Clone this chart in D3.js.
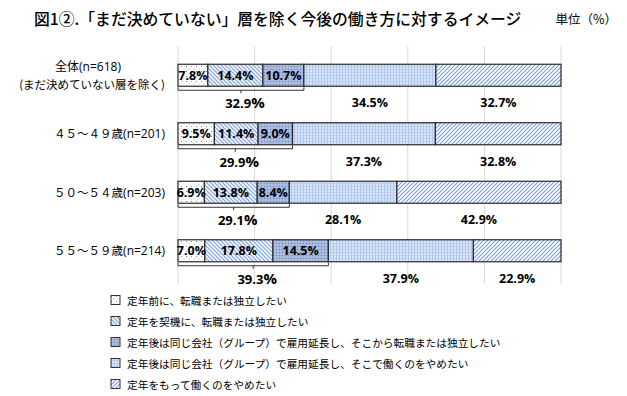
<!DOCTYPE html>
<html>
<head>
<meta charset="utf-8">
<script src="https://cdn.jsdelivr.net/npm/d3@7"></script>
<style>
  body { margin: 0; background: #fff; }
  text { font-family: "Noto Sans CJK JP", "Noto Sans", sans-serif; }
</style>
</head>
<body>
<script>
// data
const categories = ['全体', '４５～４９歳', '５０～５４歳', '５５～５９歳'];
const sampleN = [618, 201, 203, 214];
const seriesNames = [
  '定年前に、転職または独立したい',
  '定年を契機に、転職または独立したい',
  '定年後は同じ会社（グループ）で雇用延長し、そこから転職または独立したい',
  '定年後は同じ会社（グループ）で雇用延長し、そこで働くのをやめたい',
  '定年をもって働くのをやめたい'
];
const beforeRetire = [7.8, 9.5, 6.9, 7.0];
const atRetire = [14.4, 11.4, 13.8, 17.8];
const extendThenMove = [10.7, 9.0, 8.4, 14.5];
const extendThenQuit = [34.5, 37.3, 28.1, 37.9];
const quitAtRetire = [32.7, 32.8, 42.9, 22.9];
const xTicks = [0, 20, 40, 60, 80, 100];

const series = [beforeRetire, atRetire, extendThenMove, extendThenQuit, quitAtRetire];

const svg = d3.select('body').append('svg')
  .attr('width', 627)
  .attr('height', 396);

// patterns
const defs = svg.append('defs');
function pat(id, w, h) {
  return defs.append('pattern').attr('id', id)
    .attr('patternUnits', 'userSpaceOnUse')
    .attr('width', w).attr('height', h);
}
let p = pat('p0', 5, 5);
p.append('rect').attr('width', 5).attr('height', 5).attr('fill', '#fff');
p.append('rect').attr('x', 1).attr('y', 1).attr('width', 1).attr('height', 1).attr('fill', '#6f8fca');
p.append('rect').attr('x', 3.5).attr('y', 3.5).attr('width', 1).attr('height', 1).attr('fill', '#9fb6e0');

p = pat('p1', 4, 4);
p.append('rect').attr('width', 4).attr('height', 4).attr('fill', '#f2f6fc');
p.append('path').attr('d', 'M-1,-1L5,5M-1,3L1,5M3,-1L5,1')
  .attr('stroke', '#86a5dc').attr('stroke-width', 1.1);

p = pat('p2', 3, 3);
p.append('rect').attr('width', 3).attr('height', 3).attr('fill', '#a3b6dc');
p.append('rect').attr('width', 1).attr('height', 1).attr('fill', '#6c86bf');
p.append('rect').attr('x', 1.5).attr('y', 1.5).attr('width', 1).attr('height', 1).attr('fill', '#c7d3ec');

p = pat('p3', 3, 3);
p.append('rect').attr('width', 3).attr('height', 3).attr('fill', '#dbe7f8');
p.append('rect').attr('width', 1).attr('height', 3).attr('fill', '#a9c3ee');
p.append('rect').attr('width', 3).attr('height', 1).attr('fill', '#b9cff2');

p = pat('p4', 4, 4);
p.append('rect').attr('width', 4).attr('height', 4).attr('fill', '#fff');
p.append('path').attr('d', 'M-1,5L5,-1M-1,1L1,-1M3,5L5,3')
  .attr('stroke', '#7c9edf').attr('stroke-width', 1.1);

const x = d3.scaleLinear().domain([0, 100]).range([178, 561]);
const y = d3.scaleBand().domain(categories).range([46, 280]);
const barH = 22;

// gridlines
svg.append('g').selectAll('line').data(xTicks).join('line')
  .attr('x1', d => x(d)).attr('x2', d => x(d))
  .attr('y1', 46).attr('y2', 284)
  .attr('stroke', '#d9d9d9').attr('stroke-width', 1);

// stacked rows
const rows = categories.map((c, i) => {
  const vals = series.map(s => s[i]);
  const total = d3.sum(vals);
  let acc = 0;
  const segs = vals.map((v, k) => {
    const s = { k, v, x0: acc / total * 100, x1: (acc + v) / total * 100 };
    acc += v;
    return s;
  });
  return { c, i, segs, head: vals[0] + vals[1] + vals[2] };
});

const g = svg.append('g');
rows.forEach(r => {
  const cy = y(r.c) + y.bandwidth() / 2;
  const top = cy - barH / 2, bot = cy + barH / 2;
  g.selectAll(null).data(r.segs).join('rect')
    .attr('x', d => x(d.x0)).attr('y', top)
    .attr('width', d => x(d.x1) - x(d.x0)).attr('height', barH)
    .attr('fill', d => `url(#p${d.k})`)
    .attr('stroke', '#2b2b2b').attr('stroke-width', 1.2);

  // labels inside first three
  g.selectAll(null).data(r.segs.slice(0, 3)).join('text')
    .attr('x', d => (x(d.x0) + x(d.x1)) / 2).attr('y', cy + 4.5)
    .attr('text-anchor', 'middle')
    .style('font-family', '"Open Sans", sans-serif')
    .style('font-weight', 'bold').style('font-size', '12.5px')
    .text(d => d.v.toFixed(1) + '%');

  // labels below for last two
  g.selectAll(null).data(r.segs.slice(3)).join('text')
    .attr('x', d => (x(d.x0) + x(d.x1)) / 2).attr('y', bot + 21)
    .attr('text-anchor', 'middle')
    .style('font-family', '"Open Sans", sans-serif')
    .style('font-weight', 'bold').style('font-size', '12.5px')
    .text(d => d.v.toFixed(1) + '%');

  // bracket
  const bx0 = x(0), bx1 = x(r.segs[2].x1), mid = (bx0 + bx1) / 2;
  g.append('path')
    .attr('d', `M${bx0},${bot + 1}V${bot + 4}H${bx1}V${bot + 1}M${mid},${bot + 4}V${bot + 7}`)
    .attr('fill', 'none').attr('stroke', '#333').attr('stroke-width', 1);
  const sl = g.append('text')
    .attr('x', mid + 4).attr('y', bot + 22)
    .attr('text-anchor', 'middle')
    .style('font-family', '"Open Sans", sans-serif')
    .style('font-weight', 'bold').style('font-size', '13px');
  sl.append('tspan').text(r.head.toFixed(1));
  sl.append('tspan').style('font-size', '15px').text('%');

  // category labels
  if (r.i === 0) {
    const t = g.append('text').attr('x', 88).attr('y', cy - 4.5).attr('text-anchor', 'middle')
      .style('font-size', '12px');
    t.append('tspan').text(r.c);
    t.append('tspan').style('font-family', '"Open Sans", sans-serif').text(`(n=${sampleN[r.i]})`);
    g.append('text').attr('x', 165).attr('y', cy + 14).attr('text-anchor', 'end')
      .style('font-size', '11.5px').text('(まだ決めていない層を除く)');
  } else {
    const t = g.append('text').attr('x', 165).attr('y', cy + 4.5).attr('text-anchor', 'end');
    t.append('tspan').style('font-size', '11.5px').style('font-family', '"Noto Sans CJK JP", sans-serif').text(r.c);
    t.append('tspan').style('font-size', '12px').style('font-family', '"Open Sans", sans-serif').text(`(n=${sampleN[r.i]})`);
  }
});

// title
svg.append('text').attr('x', 34).attr('y', 25)
  .style('font-size', '15.8px').style('font-weight', '500')
  .text('図1②.「まだ決めていない」層を除く今後の働き方に対するイメージ');
svg.append('text').attr('x', 617).attr('y', 24).attr('text-anchor', 'end')
  .style('font-size', '12.5px')
  .text('単位（%）');

// legend
const lg = svg.append('g');
const ly = d3.scaleBand().domain(d3.range(seriesNames.length)).range([290, 395]);
seriesNames.forEach((n, k) => {
  const cy = ly(k) + ly.bandwidth() / 2;
  lg.append('rect').attr('x', 111).attr('y', cy - 5).attr('width', 9).attr('height', 9)
    .attr('fill', `url(#p${k})`).attr('stroke', '#333').attr('stroke-width', 1);
  lg.append('text').attr('x', 127).attr('y', cy + 4)
    .style('font-size', '10.7px').text(n);
});
</script>
</body>
</html>
